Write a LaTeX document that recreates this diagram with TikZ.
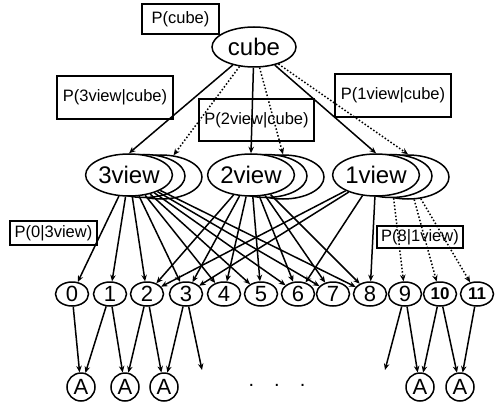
\documentclass[tikz,border=0pt]{standalone}
\usepackage{fontspec}
\setmainfont{Liberation Sans}
\usetikzlibrary{arrows.meta, shapes.geometric}

\begin{document}
\begin{tikzpicture}[x=1pt, y=-1pt, line width=1.5pt, >={Stealth[length=6.5pt,width=5.5pt]},
  every node/.style={inner sep=0pt},
  prob/.style={draw, line width=1.1pt, font=\fontsize{16.5}{18}\selectfont},
  view/.style={draw, ellipse, fill=white, minimum width=82pt, minimum height=42pt,
    font=\fontsize{24}{24}\selectfont},
  leaf/.style={draw, ellipse, minimum width=33pt, minimum height=24pt,
    font=\fontsize{22}{22}\selectfont},
  obs/.style={draw, circle, minimum size=28pt, font=\fontsize{22}{22}\selectfont}]
\useasboundingbox (0,0) rectangle (497,406);
% root and prior
\node[view, minimum width=84pt, minimum height=40pt] (cube) at (254,47) {cube};
\node[prob, minimum width=77pt, minimum height=30pt] (pcube) at (180.5,19) {P(cube)};
% view layer, each with two copies stacked behind it
\foreach \vw/\x/\lab in {3/129/3view, 2/251/2view, 1/376/1view} {
  \node[view, minimum height=44pt] (v\vw-far) at (\x+32,177) {};
  \node[view, minimum height=43pt] (v\vw-mid) at (\x+15,176) {};
  \node[view] (v\vw) at (\x,175) {\lab};
}
% parts
\foreach \i/\x in {0/72,1/110,2/147,3/186,4/224,5/261,6/298,7/333,8/370,9/405}
  \node[leaf] (n\i) at (\x,294) {\i};
\node[leaf, font=\bfseries\fontsize{17}{17}\selectfont] (n10) at (440,294) {10};
\node[leaf, font=\bfseries\fontsize{17}{17}\selectfont] (n11) at (477,294) {11};
% observations
\foreach \i/\x in {1/81,2/125,3/164,4/420,5/460}
  \node[obs] (a\i) at (\x,387) {A};
\coordinate (free3) at (202,370);
\coordinate (free9) at (385,370);
\node[font=\fontsize{20}{20}\selectfont] (etc) at (277,385) {.\quad.\quad.};
% cube -> views
\draw[->] (cube) -- (v3.north);
\draw[->] (cube) -- (v2.north);
\draw[->] (cube) -- (v1.north);
\draw[->, dotted] (cube) -- (v3-far.60);
\draw[->, dotted] (cube) -- (v2-far.north);
\draw[->, dotted] (cube) -- (v1-far.north);
% views -> parts
\foreach \i in {0,...,8} \draw[->] (v3) -- (n\i);
\foreach \i in {2,...,8} \draw[->] (v2) -- (n\i);
\foreach \i in {2,3,6,8} \draw[->] (v1) -- (n\i);
\draw[->, dotted] (v1-mid) -- (n9);
\foreach \i in {10,11} \draw[->, dotted] (v1-far) -- (n\i);
% parts -> observations
\foreach \s/\t in {n0/a1, n1/a1, n1/a2, n2/a2, n2/a3, n3/a3, n3/free3,
  n9/free9, n9/a4, n10/a4, n10/a5, n11/a5}
  \draw[->] (\s) -- (\t);
% conditional labels
\node[prob, minimum width=116pt, minimum height=43pt] (p3) at (115,97.5) {P(3view|cube)};
\node[prob, minimum width=115pt, minimum height=42pt] (p2) at (256.5,120) {P(2view|cube)};
\node[prob, minimum width=116pt, minimum height=43pt] (p1) at (393,95.5) {P(1view|cube)};
\node[prob, minimum width=87pt, minimum height=24pt] (p03) at (53.5,233) {P(0|3view)};
\node[prob, minimum width=86pt, minimum height=22pt] (p81) at (420,237) {P(8|1view)};
\end{tikzpicture}
\end{document}
